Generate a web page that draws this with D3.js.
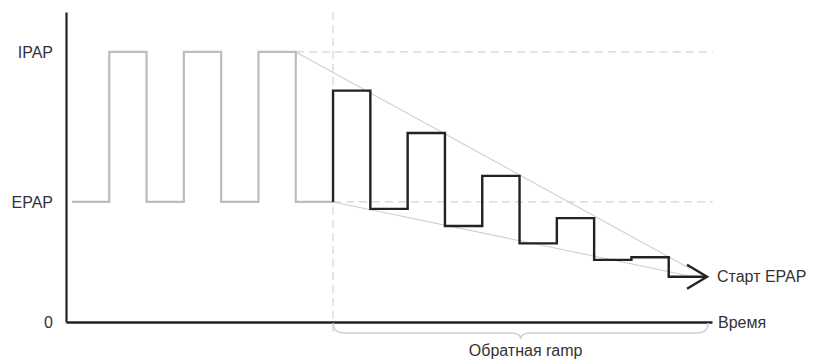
<!DOCTYPE html>
<html><head><meta charset="utf-8">
<script src="https://cdn.jsdelivr.net/npm/d3@7"></script>
<style>html,body{margin:0;padding:0;background:#fff;}svg{display:block;}text{font-family:"Liberation Sans",Arial,sans-serif;fill:#333;}</style>
</head><body>
<svg id="c" width="814" height="364"></svg>
<script>
// Pressure levels (arbitrary units)
const EPAP = 4, IPAP = 9;
const yTickValues = [0, EPAP, IPAP];
const yTickLabels = ["0", "EPAP", "IPAP"];
// Normal breathing (grey): step times and levels
const normalTimes  = [0, 1, 2, 3, 4, 5, 6, 7];
const normalLevels = [EPAP, IPAP, EPAP, IPAP, EPAP, IPAP, EPAP, EPAP];
// Reverse ramp (black): step times and levels
const rampTimes  = [7, 7, 8, 9, 10, 11, 12, 13, 14, 15, 16, 17];
const rampLevels = [EPAP, 7.71, 3.77, 6.3, 3.2, 4.87, 2.62, 3.46, 2.07, 2.16, 1.51, 1.51];
// Envelope guide lines [t0, v0, t1, v1]
const upperGuide = [6, IPAP, 16.57, 1.78];
const lowerGuide = [7, EPAP, 16.5, 1.55];
const rampStart = 7, rampEnd = 17.06;
const xLabel = "Время", endLabel = "Старт EPAP", braceLabel = "Обратная ramp";

const FS = 16;
const svg = d3.select("#c");
const x = d3.scaleLinear().domain([-0.16, 17.16]).range([66, 712]);
const y = d3.scaleLinear().domain([0, 10.33]).range([322, 12]);
const tMax = 17.18;

// dashed reference lines
const dash = "8,5";
svg.append("line").attr("x1", x(6)).attr("x2", x(tMax)).attr("y1", y(IPAP)).attr("y2", y(IPAP))
  .attr("stroke", "#d4d4d4").attr("stroke-width", 1.2).attr("stroke-dasharray", dash);
svg.append("line").attr("x1", x(7)).attr("x2", x(tMax)).attr("y1", y(EPAP)).attr("y2", y(EPAP))
  .attr("stroke", "#d4d4d4").attr("stroke-width", 1.2).attr("stroke-dasharray", dash);
svg.append("line").attr("x1", x(rampStart)).attr("x2", x(rampStart)).attr("y1", y(10.33)).attr("y2", 336)
  .attr("stroke", "#d4d4d4").attr("stroke-width", 1.2).attr("stroke-dasharray", dash);

// guides
[upperGuide, lowerGuide].forEach(g => {
  svg.append("line").attr("x1", x(g[0])).attr("y1", y(g[1])).attr("x2", x(g[2])).attr("y2", y(g[3]))
    .attr("stroke", "#cfcfcf").attr("stroke-width", 1.1);
});

// axes
const yAxis = d3.axisLeft(y).tickValues(yTickValues).tickSize(0).tickSizeOuter(0).tickPadding(13)
  .tickFormat((d, i) => yTickLabels[i]);
const gy = svg.append("g").attr("transform", "translate(66,0)").call(yAxis);
gy.select(".domain").attr("stroke", "#222").attr("stroke-width", 2.2);
gy.selectAll("text").attr("font-size", FS).attr("fill", "#333").style("font-family", '"Liberation Sans",Arial,sans-serif');

const xAxis = d3.axisBottom(x).tickValues([]).tickSizeOuter(0);
const gx = svg.append("g").attr("transform", "translate(0,322)").call(xAxis);
gx.select(".domain").attr("stroke", "#222").attr("stroke-width", 2.4);
svg.append("text").attr("x", 718).attr("y", 322).attr("dy", "0.35em").attr("font-size", FS).text(xLabel);

// waveforms
const line = d3.line().x(d => x(d[0])).y(d => y(d[1])).curve(d3.curveStepAfter);
svg.append("path").datum(d3.zip(normalTimes, normalLevels)).attr("d", line)
  .attr("fill", "none").attr("stroke", "#bdbdbd").attr("stroke-width", 2.2);
svg.append("path").datum(d3.zip(rampTimes, rampLevels)).attr("d", line)
  .attr("fill", "none").attr("stroke", "#222").attr("stroke-width", 2.4).attr("stroke-linejoin", "miter");

// arrow head at ramp end
const tipX = x(17), tipY = y(rampLevels[rampLevels.length - 1]);
svg.append("path").attr("d", `M${tipX - 19},${tipY - 12}L${tipX + 1},${tipY}L${tipX - 19},${tipY + 12}`)
  .attr("fill", "none").attr("stroke", "#222").attr("stroke-width", 2.4);
svg.append("text").attr("x", 717).attr("y", tipY).attr("dy", "0.35em").attr("font-size", FS).text(endLabel);

// brace
const bx0 = x(rampStart), bx1 = x(rampEnd), bm = (bx0 + bx1) / 2, by = 333;
svg.append("path")
  .attr("d", `M${bx0},323 Q${bx0},${by} ${bx0 + 12},${by} L${bm - 10},${by} Q${bm},${by} ${bm},${by + 6} Q${bm},${by} ${bm + 10},${by} L${bx1 - 12},${by} Q${bx1},${by} ${bx1},323`)
  .attr("fill", "none").attr("stroke", "#cfcfcf").attr("stroke-width", 1.5);
svg.append("text").attr("x", bm + 5).attr("y", 356).attr("text-anchor", "middle").attr("font-size", FS).text(braceLabel);
</script>
</body></html>
